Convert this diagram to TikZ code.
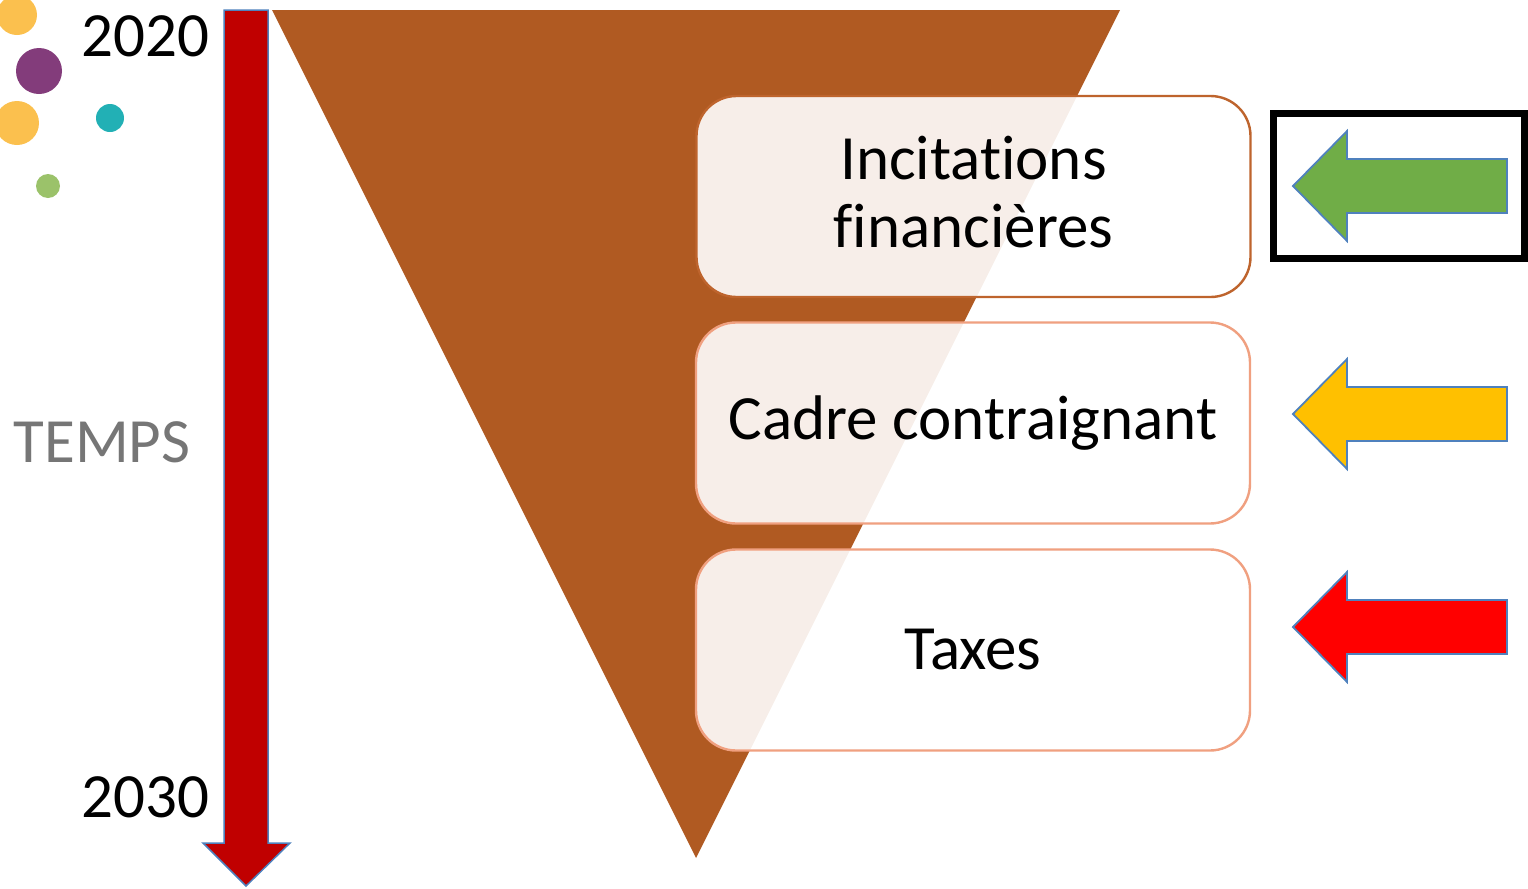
\documentclass[tikz,border=0pt]{standalone}
\usepackage{fontspec}
\setmainfont{Carlito}[Ligatures=NoCommon]

\definecolor{funnel}{RGB}{176,90,34}
\definecolor{timered}{RGB}{192,0,0}
\definecolor{shapeblue}{RGB}{79,129,189}
\definecolor{boxbrown}{RGB}{190,100,45}
\definecolor{boxsalmon}{RGB}{240,160,128}
\definecolor{arrowgreen}{RGB}{112,173,71}
\definecolor{arrowyellow}{RGB}{255,192,0}
\definecolor{arrowred}{RGB}{255,0,0}
\definecolor{dotyellow}{RGB}{251,192,78}
\definecolor{dotpurple}{RGB}{131,60,123}
\definecolor{dotteal}{RGB}{34,176,181}
\definecolor{dotgreen}{RGB}{155,194,106}
\definecolor{tempsgray}{RGB}{118,118,118}

\tikzset{
	bigtext/.style={font=\fontsize{31.5}{34}\selectfont},
	levelbox/.style={bigtext,rectangle,rounded corners=20pt,line width=1.2pt,fill=white,fill opacity=0.9,text opacity=1,align=center,inner sep=0,minimum width=277pt,minimum height=100.5pt},
	dot/.style={circle,inner sep=0,outer sep=0}
}

\begin{document}
\begin{tikzpicture}[x=0.5pt,y=-0.5pt]
	\useasboundingbox (0,0) rectangle (1528,889);
	% dots
	\node[dot,fill=dotyellow,minimum size=20pt] (d1) at (17,15) {};
	\node[dot,fill=dotpurple,minimum size=23pt] (d2) at (39,71) {};
	\node[dot,fill=dotyellow,minimum size=22pt] (d3) at (17,123) {};
	\node[dot,fill=dotteal,minimum size=14pt] (d4) at (110,118) {};
	\node[dot,fill=dotgreen,minimum size=12pt] (d5) at (48,186) {};
	% funnel
	\fill[funnel] (272,10) -- (1120,10) -- (696,858) -- cycle;
	% time arrow
	\draw[draw=shapeblue,fill=timered,line width=0.75pt,line join=miter] (224,10) -- (268,10) -- (268,843) -- (290,843) -- (246,886) -- (203,843) -- (224,843) -- cycle;
	\node[bigtext,anchor=base east] (y2020) at (216,56) {2020};
	\node[bigtext,anchor=base east] (y2030) at (216,817) {2030};
	\node[bigtext,text=tempsgray] (temps) at (102,442) {TEMPS};
	% boxes
	\node[levelbox,draw=boxbrown] (incit) at (973.5,196.5) {Incitations\\financières\\[-29pt]};
	\node[levelbox,draw=boxsalmon] (cadre) at (973,423) {Cadre contraignant};
	\node[levelbox,draw=boxsalmon] (taxes) at (973,650) {Taxes};
	% arrows
	\foreach \cy/\col in {186/arrowgreen,414/arrowyellow,627/arrowred}
		\draw[draw=shapeblue,fill=\col,line width=0.9pt,line join=miter] (1293,\cy) -- (1347,\cy-55) -- (1347,\cy-27) -- (1507,\cy-27) -- (1507,\cy+27) -- (1347,\cy+27) -- (1347,\cy+55) -- cycle;
	\node[draw,line width=3.5pt,inner sep=0,minimum width=125.5pt,minimum height=72.5pt] (frame) at (1399,186) {};
\end{tikzpicture}
\end{document}
